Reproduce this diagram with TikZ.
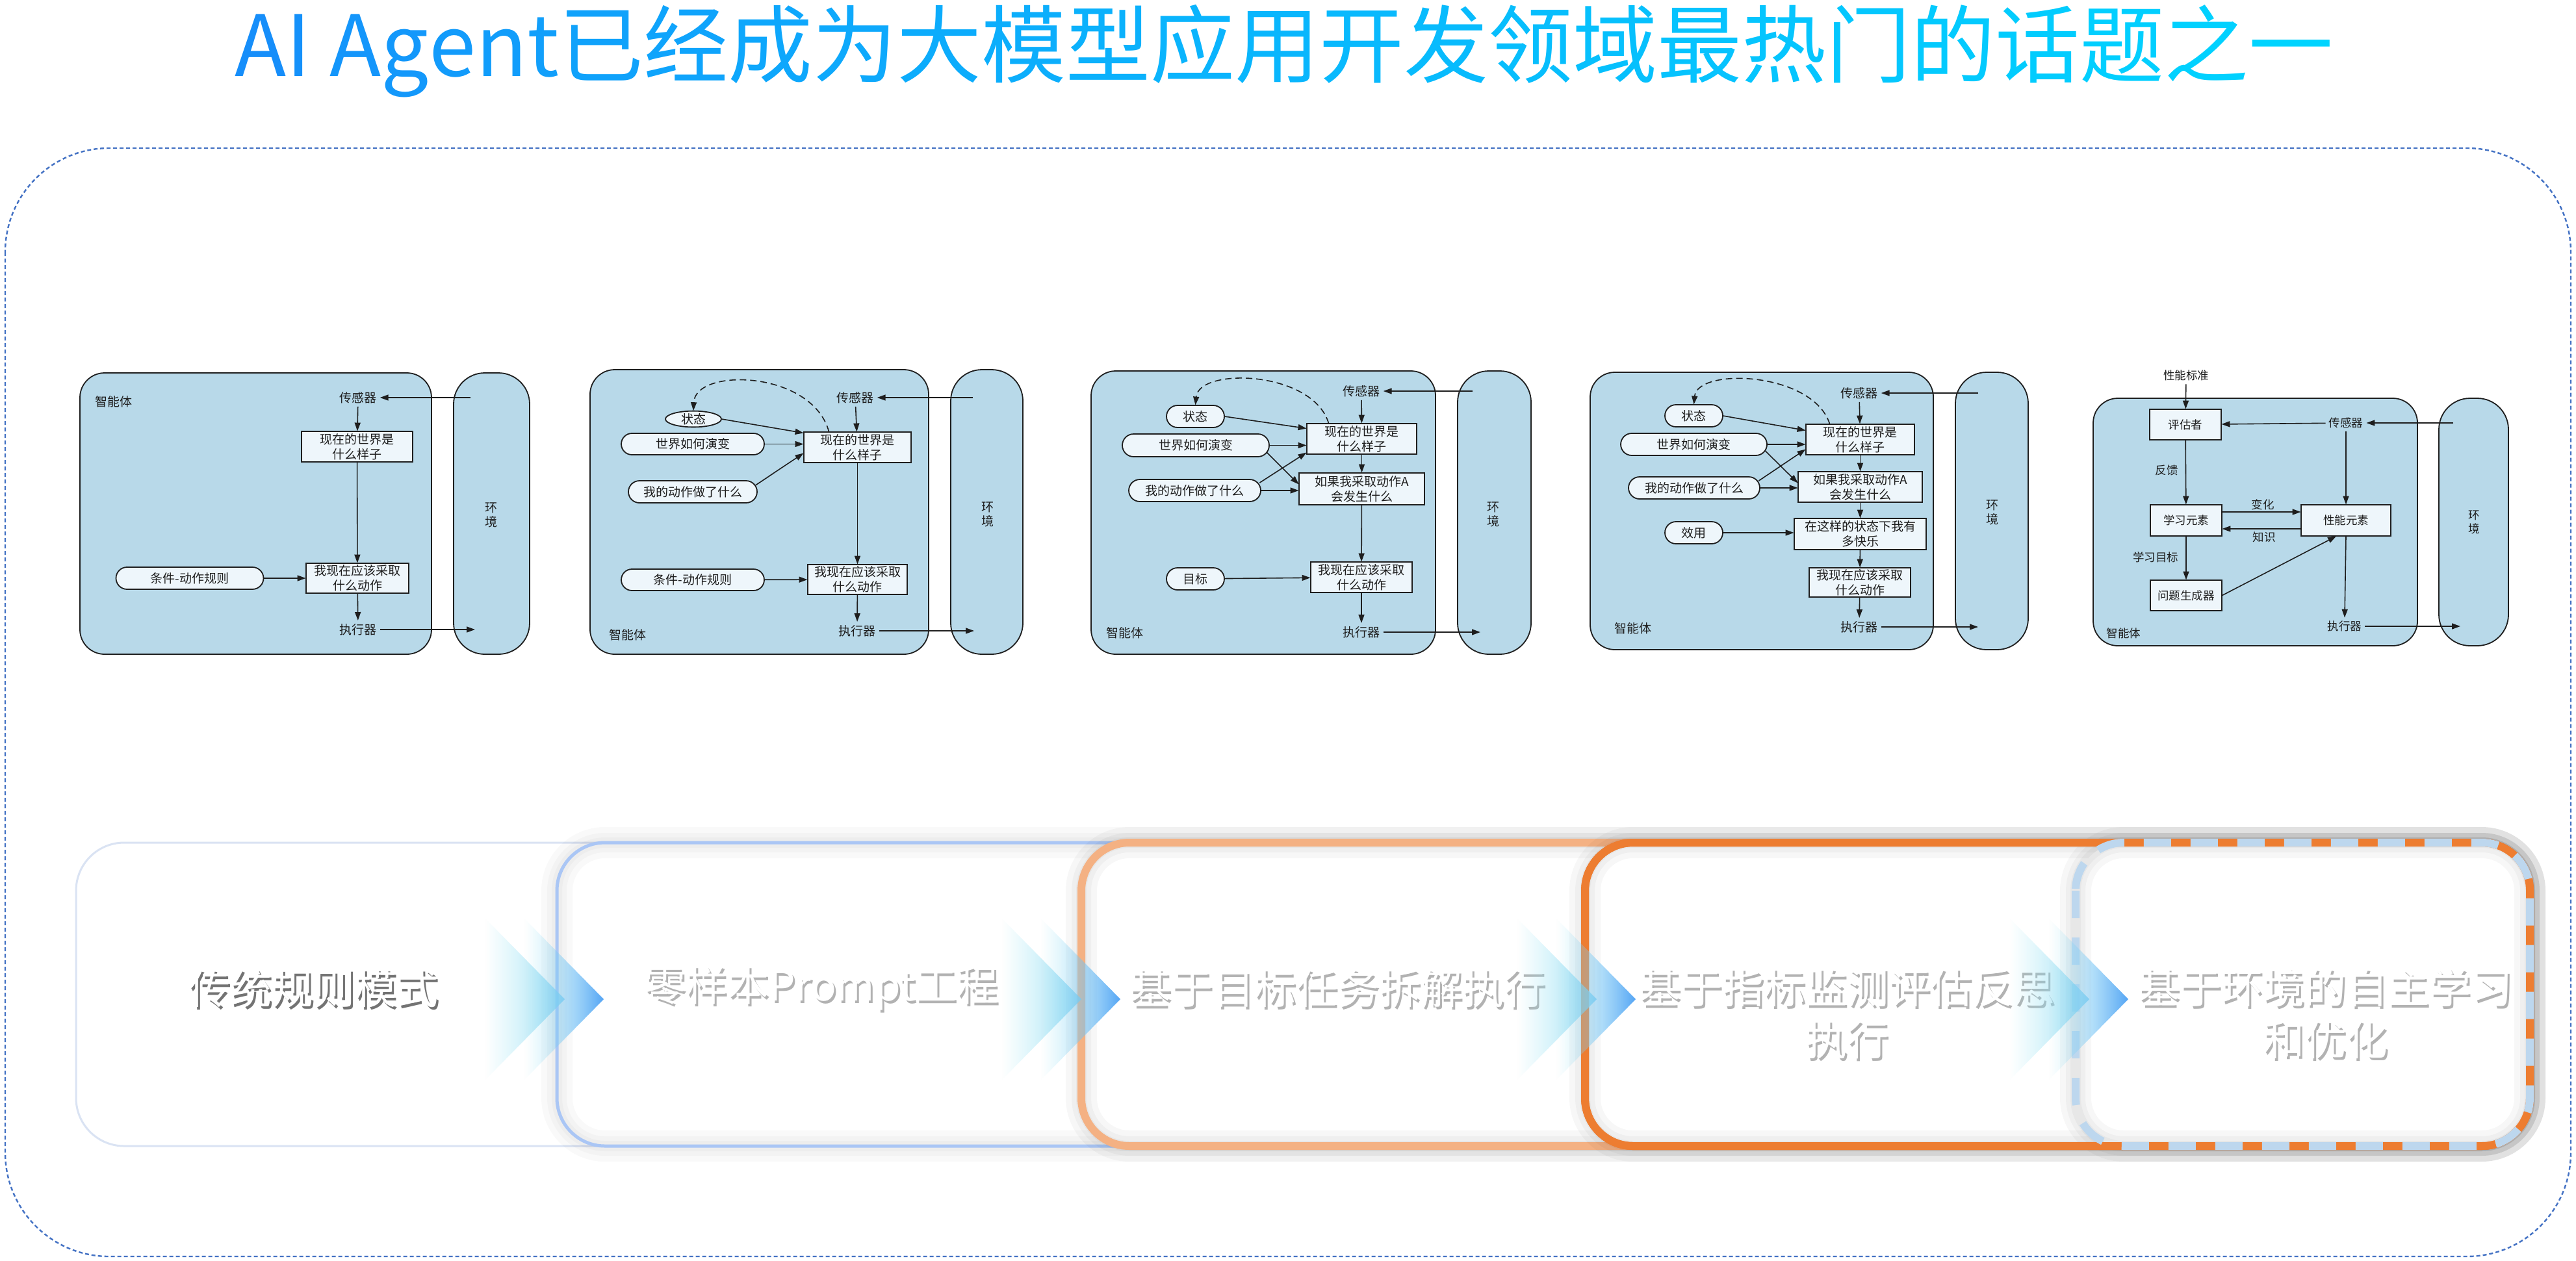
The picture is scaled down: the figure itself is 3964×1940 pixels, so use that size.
\documentclass[tikz,border=0pt]{standalone}
\usepackage{fontspec}
\setmainfont{Noto Sans CJK SC}
\usetikzlibrary{arrows.meta,shapes.misc,shapes.geometric,calc,fadings}
\definecolor{agentfill}{RGB}{184,217,233}
\definecolor{boxfill}{RGB}{238,246,251}
\definecolor{ink}{RGB}{30,30,30}
\definecolor{frameblue}{RGB}{68,114,196}
\definecolor{tA}{RGB}{22,142,250}
\definecolor{tB}{RGB}{0,212,255}
\definecolor{bAline}{RGB}{218,227,243}
\definecolor{bBline}{RGB}{170,198,245}
\definecolor{bCline}{RGB}{244,177,131}
\definecolor{bDline}{RGB}{237,125,49}
\definecolor{bEline}{RGB}{189,215,238}
\definecolor{chevL}{RGB}{150,232,245}
\definecolor{chevR}{RGB}{85,165,245}
\definecolor{chevBR}{RGB}{120,205,240}
\newcommand{\tc}[2]{\textcolor{tB!#1!tA}{#2}}
\tikzset{
  agentbox/.style={draw=ink, fill=agentfill, line width=0.9pt, rounded corners=19pt},
  envbox/.style={draw=ink, fill=agentfill, line width=0.9pt, rounded corners=24pt},
  lbl/.style={font=\fontsize{19pt}{22pt}\selectfont, text=ink, inner sep=5pt, align=center},
  lbls/.style={font=\fontsize{17.5pt}{21pt}\selectfont, text=ink, inner sep=5pt, align=center},
  pbox/.style={draw=ink, fill=boxfill, line width=0.9pt, inner sep=0pt, align=center, text=ink, font=\fontsize{19pt}{23pt}\selectfont},
  pboxs/.style={pbox, font=\fontsize{17.5pt}{21pt}\selectfont},
  capsule/.style={rounded rectangle, draw=ink, fill=boxfill, line width=0.9pt, inner sep=0pt, text=ink, font=\fontsize{19pt}{23pt}\selectfont},
  oval/.style={ellipse, draw=ink, fill=boxfill, line width=0.9pt, inner sep=0pt, text=ink, font=\fontsize{19pt}{23pt}\selectfont},
  arr/.style={draw=ink, line width=0.8pt, -{Triangle[length=6.5pt,width=4.5pt]}},
  darr/.style={arr, dash pattern=on 5pt off 3pt},
  rowtext/.style={font=\fontsize{64pt}{80pt}\selectfont, text=white, align=center},
  rowshadow/.style={rowtext, text=black!#1},
  glow/.style={preaction={draw=black, draw opacity=#1, line width=24pt}, preaction={draw=black, draw opacity=#1, line width=15pt}, preaction={draw=black, draw opacity=#1, line width=8pt}},
  glow/.default=0.03,
  chevfront/.style={left color=chevL, right color=chevR, path fading=west, draw=none},
  chevback/.style={left color=chevL, right color=chevBR, path fading=west, draw=none}
}
\begin{document}
\begin{tikzpicture}[x=1pt,y=1pt,scale=0.5,transform shape]
\useasboundingbox (0,0) rectangle (3964,-1940);
\fill[white] (0,0) rectangle (3964,-1940);
% title
\node[anchor=base, font=\fontsize{130pt}{140pt}\selectfont, inner sep=0pt] (title) at (1976,-117) {\tc{0}{A}\tc{4}{I} \tc{11}{A}\tc{14}{g}\tc{18}{e}\tc{21}{n}\tc{25}{t}\tc{29}{已}\tc{32}{经}\tc{36}{成}\tc{39}{为}\tc{43}{大}\tc{46}{模}\tc{50}{型}\tc{54}{应}\tc{57}{用}\tc{61}{开}\tc{64}{发}\tc{68}{领}\tc{71}{域}\tc{75}{最}\tc{79}{热}\tc{82}{门}\tc{86}{的}\tc{89}{话}\tc{93}{题}\tc{96}{之}\tc{100}{一}};
% outer frame
\draw[frameblue, line width=1.2pt, dash pattern=on 3pt off 2pt, rounded corners=80pt] (8,-228) rectangle (3956,-1934);

% ---------------- Diagram 1 ----------------
\draw[agentbox] (123,-574) rectangle (664,-1007);
\draw[envbox] (698,-574) rectangle (815,-1007);
\node[lbl] (a1) at (175,-618) {智能体};
\node[lbl] (s1) at (551,-612) {传感器};
\node[pbox, minimum width=171pt, minimum height=47pt] (w1) at (549.5,-687.5) {现在的世界是\\什么样子};
\node[pbox, minimum width=158pt, minimum height=46pt] (d1) at (550,-890) {我现在应该采取\\什么动作};
\node[capsule, minimum width=227pt, minimum height=34pt] (r1) at (292,-890) {条件-动作规则};
\node[lbl] (e1) at (551,-969) {执行器};
\node[lbl] (v1) at (756,-793) {环\\境};
\coordinate (ei1) at (724,-612);
\coordinate (eo1) at (731,-969);
\draw[arr] (ei1) -- (s1);
\draw[arr] (s1) -- (w1);
\draw[arr] (w1) -- (d1);
\draw[arr] (r1) -- (d1);
\draw[arr] (d1) -- (e1);
\draw[arr] (e1) -- (eo1);

% ---------------- Diagram 2 ----------------
\draw[agentbox] (908,-569) rectangle (1429,-1007);
\draw[envbox] (1463,-569) rectangle (1574,-1007);
\node[lbl] (s2) at (1316,-612) {传感器};
\node[pbox, minimum width=165pt, minimum height=47pt] (w2) at (1319.5,-688.5) {现在的世界是\\什么样子};
\node[oval, minimum width=86pt, minimum height=24pt] (st2) at (1067,-645) {状态};
\node[capsule, minimum width=220pt, minimum height=33pt] (ev2) at (1066,-683.5) {世界如何演变};
\node[capsule, minimum width=198pt, minimum height=34pt] (my2) at (1066,-757) {我的动作做了什么};
\node[pbox, minimum width=153pt, minimum height=46pt] (d2) at (1319.5,-892) {我现在应该采取\\什么动作};
\node[capsule, minimum width=220pt, minimum height=33pt] (r2) at (1066,-892.5) {条件-动作规则};
\node[lbl] (e2) at (1319,-971) {执行器};
\node[lbl] (a2) at (966,-977) {智能体};
\node[lbl] (v2) at (1520,-792) {环\\境};
\coordinate (ei2) at (1497,-612);
\coordinate (eo2) at (1499,-971);
\draw[arr] (ei2) -- (s2);
\draw[arr] (s2) -- (w2);
\draw[darr] ($(w2.north west)+(39,0)$) .. controls (1250,-570) and (1070,-565) .. (st2.north);
\draw[arr] (st2.east) -- ($(w2.west)+(0,22)$);
\draw[arr] (ev2.east) -- (ev2.east -| w2.west);
\draw[arr] ($(my2.east)+(-3,10)$) -- ($(w2.west)+(0,-9)$);
\draw[arr] (w2) -- (d2);
\draw[arr] (r2) -- (d2);
\draw[arr] (d2) -- (e2);
\draw[arr] (e2) -- (eo2);

% ---------------- Diagram 3 ----------------
\draw[agentbox] (1679,-571) rectangle (2209,-1007);
\draw[envbox] (2243,-571) rectangle (2356,-1007);
\node[lbl] (s3) at (2095,-602) {传感器};
\node[pbox, minimum width=169pt, minimum height=47pt] (w3) at (2095.5,-675.5) {现在的世界是\\什么样子};
\node[capsule, minimum width=89pt, minimum height=34pt] (st3) at (1839.5,-641) {状态};
\node[capsule, minimum width=226pt, minimum height=35pt] (ev3) at (1840,-685.5) {世界如何演变};
\node[pbox, minimum width=193pt, minimum height=49pt] (b3) at (2095.5,-752.5) {如果我采取动作A\\会发生什么};
\node[capsule, minimum width=203pt, minimum height=34pt] (my3) at (1838.5,-755) {我的动作做了什么};
\node[pbox, minimum width=156pt, minimum height=47pt] (d3) at (2095,-888.5) {我现在应该采取\\什么动作};
\node[capsule, minimum width=89pt, minimum height=34pt] (g3) at (1839.5,-891) {目标};
\node[lbl] (e3) at (2095,-973) {执行器};
\node[lbl] (a3) at (1731,-974) {智能体};
\node[lbl] (v3) at (2298,-792) {环\\境};
\coordinate (ei3) at (2266,-602);
\coordinate (eo3) at (2278,-973);
\draw[arr] (ei3) -- (s3);
\draw[arr] (s3) -- (w3);
\draw[darr] ($(w3.north west)+(34,0)$) .. controls (2020,-570) and (1845,-565) .. (st3.north);
\draw[arr] (st3.east) -- ($(w3.west)+(0,16)$);
\draw[arr] (ev3.east) -- (ev3.east -| w3.west);
\draw[arr] ($(ev3.east)+(-4,-11)$) -- ($(b3.west)+(0,7)$);
\draw[arr] ($(my3.east)+(-2,12)$) -- ($(w3.west)+(0,-21)$);
\draw[arr] (my3.east) -- (my3.east -| b3.west);
\draw[arr] (w3) -- (b3);
\draw[arr] (b3) -- (d3);
\draw[arr] (g3) -- (d3);
\draw[arr] (d3) -- (e3);
\draw[arr] (e3) -- (eo3);

% ---------------- Diagram 4 ----------------
\draw[agentbox] (2447,-573) rectangle (2975,-1000);
\draw[envbox] (3009,-573) rectangle (3121,-1000);
\node[lbl] (s4) at (2861,-605) {传感器};
\node[pbox, minimum width=167pt, minimum height=47pt] (w4) at (2862.5,-676.5) {现在的世界是\\什么样子};
\node[capsule, minimum width=89pt, minimum height=34pt] (st4) at (2606.5,-640) {状态};
\node[capsule, minimum width=225pt, minimum height=34pt] (ev4) at (2606.5,-684) {世界如何演变};
\node[pbox, minimum width=191pt, minimum height=47pt] (b4) at (2862.5,-749.5) {如果我采取动作A\\会发生什么};
\node[capsule, minimum width=202pt, minimum height=34pt] (my4) at (2607,-751) {我的动作做了什么};
\node[pbox, minimum width=203pt, minimum height=48pt] (c4) at (2862.5,-822) {在这样的状态下我有\\多快乐};
\node[capsule, minimum width=89pt, minimum height=34pt] (u4) at (2606.5,-820) {效用};
\node[pbox, minimum width=156pt, minimum height=45pt] (d4) at (2862,-896.5) {我现在应该采取\\什么动作};
\node[lbl] (e4) at (2861,-965) {执行器};
\node[lbl] (a4) at (2513,-967) {智能体};
\node[lbl] (v4) at (3066,-789) {环\\境};
\coordinate (ei4) at (3044,-605);
\coordinate (eo4) at (3044,-965);
\draw[arr] (ei4) -- (s4);
\draw[arr] (s4) -- (w4);
\draw[darr] ($(w4.north west)+(37,0)$) .. controls (2790,-572) and (2612,-565) .. (st4.north);
\draw[arr] (st4.east) -- ($(w4.west)+(0,14)$);
\draw[arr] (ev4.east) -- (ev4.east -| w4.west);
\draw[arr] ($(ev4.east)+(-3,-10)$) -- ($(b4.west)+(0,6)$);
\draw[arr] ($(my4.east)+(-2,11)$) -- ($(w4.west)+(0,-15)$);
\draw[arr] (my4.east) -- (my4.east -| b4.west);
\draw[arr] (u4.east) -- (u4.east -| c4.west);
\draw[arr] (w4) -- (b4);
\draw[arr] (b4) -- (c4);
\draw[arr] (c4) -- (d4);
\draw[arr] (d4) -- (e4);
\draw[arr] (e4) -- (eo4);

% ---------------- Diagram 5 ----------------
\draw[agentbox] (3221,-613) rectangle (3720,-994);
\draw[envbox] (3753,-613) rectangle (3860,-994);
\node[lbls] (ps5) at (3364,-578) {性能标准};
\node[pboxs, minimum width=110pt, minimum height=47pt] (ev5) at (3363,-653.5) {评估者};
\node[lbls] (s5) at (3610,-651) {传感器};
\node[pboxs, minimum width=138pt, minimum height=48pt] (pe5) at (3610,-801) {性能元素};
\node[pboxs, minimum width=110pt, minimum height=48pt] (le5) at (3364,-801) {学习元素};
\node[pboxs, minimum width=110pt, minimum height=47pt] (pg5) at (3364,-916.5) {问题生成器};
\node[lbls] (e5) at (3608,-964) {执行器};
\node[lbls] (a5) at (3268,-975) {智能体};
\node[lbls] (v5) at (3807,-804) {环\\境};
\node[lbls] (fb5) at (3334,-724) {反馈};
\node[lbls] (ch5) at (3482,-777) {变化};
\node[lbls] (kn5) at (3484,-827) {知识};
\node[lbls] (lg5) at (3317,-858) {学习目标};
\coordinate (ei5) at (3775,-651);
\coordinate (eo5) at (3786,-964);
\draw[arr] (ps5) -- (ev5);
\draw[arr] (ei5) -- (s5);
\draw[arr] (s5) -- (ev5);
\draw[arr] (s5) -- (pe5);
\draw[arr] (ev5) -- (le5);
\draw[arr] ($(le5.east)+(0,13)$) -- ($(pe5.west)+(0,13)$);
\draw[arr] ($(pe5.west)+(0,-13)$) -- ($(le5.east)+(0,-13)$);
\draw[arr] (le5) -- (pg5);
\draw[arr] (pg5.east) -- ($(pe5.south)+(-15,0)$);
\draw[arr] (pe5.south) -- (e5.north);
\draw[arr] (e5) -- (eo5);

% ---------------- bottom row ----------------
% box 1
\draw[draw=bAline, fill=white, line width=1.5pt, rounded corners=37pt] (117,-1297) rectangle (3893,-1764);
\node[rowshadow=55] (t1s) at (485,-1525) {传统规则模式};
\node[rowtext] (t1) at (482,-1521) {传统规则模式};
% box 2
\fill[white, rounded corners=37pt] (857,-1297) rectangle (3893,-1764);
\path[glow=0.025, rounded corners=37pt] (857,-1297) rectangle (3893,-1764);
\draw[draw=bBline, line width=2.5pt, rounded corners=37pt] (857,-1297) rectangle (3893,-1764);
\node[rowshadow=30] (t2s) at (1267,-1525) {零样本Prompt工程};
\node[rowtext] (t2) at (1264,-1521) {零样本Prompt工程};
% box 3
\fill[white, rounded corners=37pt] (1664,-1297) rectangle (3893,-1764);
\path[glow, rounded corners=37pt] (1664,-1297) rectangle (3893,-1764);
\draw[draw=bCline, line width=6pt, rounded corners=37pt] (1664,-1297) rectangle (3893,-1764);
\node[rowshadow=30] (t3s) at (2061,-1525) {基于目标任务拆解执行};
\node[rowtext] (t3) at (2058,-1521) {基于目标任务拆解执行};
% box 4
\fill[white, rounded corners=37pt] (2439,-1297) rectangle (3893,-1764);
\path[glow, rounded corners=37pt] (2439,-1297) rectangle (3893,-1764);
\draw[draw=bDline, line width=6pt, rounded corners=37pt] (2439,-1297) rectangle (3893,-1764);
\node[rowshadow=30] (t4s) at (2845,-1564) {基于指标监测评估反思\\执行};
\node[rowtext] (t4) at (2842,-1560) {基于指标监测评估反思\\执行};
% box 5
\fill[white, rounded corners=37pt] (3194,-1297) rectangle (3893,-1764);
\path[glow, rounded corners=37pt] (3194,-1297) rectangle (3893,-1764);
\draw[draw=bDline, line width=6pt, rounded corners=37pt] (2439,-1297) rectangle (3893,-1764);
\draw[draw=bEline, line width=6pt, dash pattern=on 21pt off 15pt, rounded corners=37pt] (3194,-1297) rectangle (3893,-1764);
\node[rowshadow=30] (t5s) at (3581,-1564) {基于环境的自主学习\\和优化};
\node[rowtext] (t5) at (3578,-1560) {基于环境的自主学习\\和优化};
% chevrons
\foreach \tx in {929,1724,2517,3275}{
  \path[chevback, opacity=0.8] (\tx-60-122,-1414) -- (\tx-60,-1538) -- (\tx-60-122,-1662) -- cycle;
  \path[chevfront] (\tx-122,-1414) -- (\tx,-1538) -- (\tx-122,-1662) -- cycle;
}
\end{tikzpicture}
\end{document}
